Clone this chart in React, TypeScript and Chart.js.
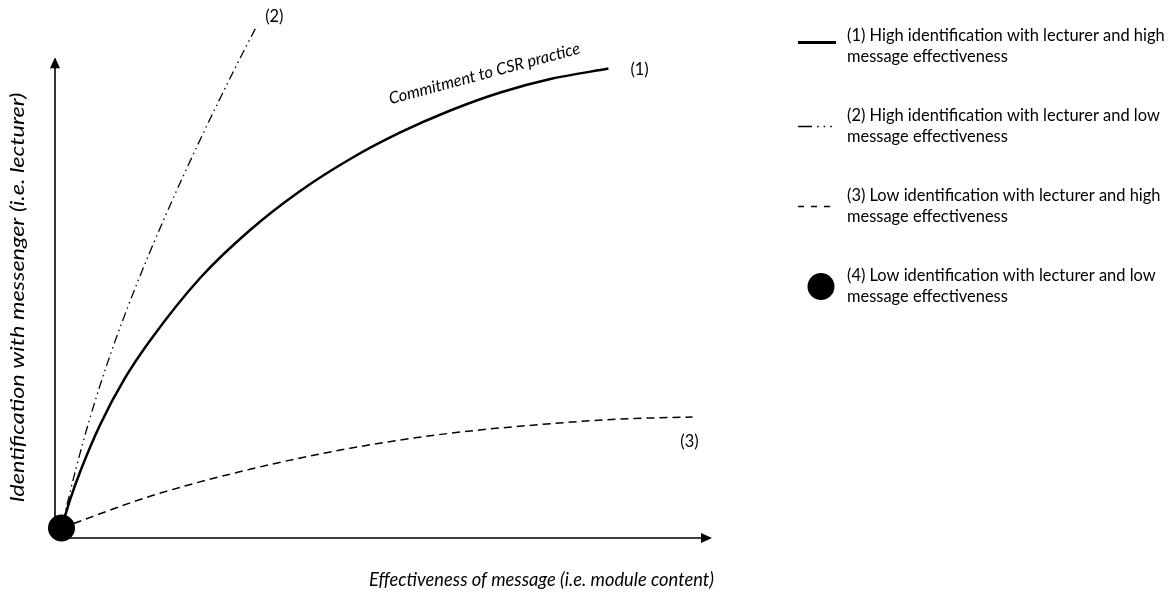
import React, { useEffect, useRef } from "react";
import { Chart, registerables } from "chart.js";

Chart.register(...registerables);

// ---- data (x: message effectiveness, y: identification with messenger) ----
const curve1X = [0, 1.31, 2.85, 5.92, 9.77, 13.62, 21.31, 29.0, 36.69, 44.38, 52.08, 59.77, 67.46, 75.15, 84.08];
const curve1Y = [0, 5.57, 11.13, 20.48, 29.82, 37.28, 49.7, 59.24, 67.0, 73.36, 78.63, 83.0, 86.58, 89.26, 91.33];

const curve2X = [0, 2.08, 4.38, 7.46, 11.31, 15.92, 21.31, 26.69, 30.08];
const curve2Y = [0, 11.09, 21.87, 34.29, 47.63, 61.89, 77.18, 91.43, 99.98];

const curve3X = [0, 13.62, 29.0, 44.38, 59.77, 75.15, 85.92, 97.0];
const curve3Y = [0, 6.3, 11.67, 15.85, 18.83, 20.72, 21.65, 22.07];

const originX = [0];
const originY = [0];

const curveTags = ["(1)", "(2)", "(3)"];
const curveCaption = "Commitment to CSR practice";
const xTitle = "Effectiveness of message (i.e. module content)";
const yTitle = "Identification with messenger (i.e. lecturer)";
const legendLines = [
  ["(1) High identification with lecturer and high", "message effectiveness"],
  ["(2) High identification with lecturer and low", "message effectiveness"],
  ["(3) Low identification with lecturer and high", "message effectiveness"],
  ["(4) Low identification with lecturer and low", "message effectiveness"],
];

const X_MIN = -1;
const X_MAX = 100;
const Y_MIN = -2;
const Y_MAX = 100;
const Y_AXIS_END = 93.6;

const FONT = "Lato, 'Open Sans', sans-serif";

const zip = (xs: number[], ys: number[]) => xs.map((x, i) => ({ x, y: ys[i] }));

function fitSize(ctx: CanvasRenderingContext2D, text: string, style: string, target: number) {
  ctx.font = `${style} 100px ${FONT}`;
  const w = ctx.measureText(text).width;
  return (100 * target) / w;
}

const decorPlugin = {
  id: "decor",
  beforeDatasetsDraw(chart: any) {
    const ctx: CanvasRenderingContext2D = chart.ctx;
    const xs = chart.scales.x;
    const ys = chart.scales.y;
    const cx = xs.getPixelForValue(X_MIN);
    const cy = ys.getPixelForValue(Y_MIN);
    const xEnd = xs.getPixelForValue(X_MAX);
    const yEnd = ys.getPixelForValue(Y_AXIS_END);
    ctx.save();
    ctx.strokeStyle = "#000";
    ctx.fillStyle = "#000";
    ctx.lineWidth = 1.6;
    ctx.beginPath();
    ctx.moveTo(cx, cy);
    ctx.lineTo(xEnd - 8, cy);
    ctx.moveTo(cx, cy);
    ctx.lineTo(cx, yEnd + 8);
    ctx.stroke();
    ctx.beginPath();
    ctx.moveTo(xEnd, cy);
    ctx.lineTo(xEnd - 11, cy - 5);
    ctx.lineTo(xEnd - 11, cy + 5);
    ctx.closePath();
    ctx.fill();
    ctx.beginPath();
    ctx.moveTo(cx, yEnd);
    ctx.lineTo(cx - 5, yEnd + 11);
    ctx.lineTo(cx + 5, yEnd + 11);
    ctx.closePath();
    ctx.fill();
    ctx.restore();
  },
  afterDatasetsDraw(chart: any) {
    const ctx: CanvasRenderingContext2D = chart.ctx;
    const xs = chart.scales.x;
    const ys = chart.scales.y;
    const px = (v: number) => xs.getPixelForValue(v);
    const py = (v: number) => ys.getPixelForValue(v);
    ctx.save();
    ctx.fillStyle = "#000";

    const legendSize = fitSize(ctx, legendLines[0][0], "normal", 318);
    const tagFont = `normal ${legendSize}px ${FONT}`;

    // curve tags
    ctx.font = tagFont;
    ctx.textBaseline = "middle";
    ctx.textAlign = "left";
    const e1 = curve1X.length - 1;
    ctx.fillText(curveTags[0], px(curve1X[e1]) + 22, py(curve1Y[e1]) + 1);
    const e2 = curve2X.length - 1;
    ctx.fillText(curveTags[1], px(curve2X[e2]) + 8, py(curve2Y[e2]) - 8);
    const e3 = curve3X.length - 1;
    ctx.textAlign = "center";
    ctx.fillText(curveTags[2], px(curve3X[e3]) - 3, py(curve3Y[e3]) + 25);

    // caption along curve 1
    ctx.save();
    ctx.font = `italic ${legendSize}px ${FONT}`;
    ctx.translate(px(curve1X[e1]) - 124, py(curve1Y[e1]) + 5);
    ctx.rotate((-15 * Math.PI) / 180);
    ctx.textAlign = "center";
    ctx.textBaseline = "middle";
    ctx.fillText(curveCaption, 0, 0);
    ctx.restore();

    // axis titles
    const xtSize = fitSize(ctx, xTitle, "italic", 345);
    ctx.font = `italic ${xtSize}px ${FONT}`;
    ctx.textAlign = "right";
    ctx.textBaseline = "middle";
    ctx.fillText(xTitle, px(X_MAX) + 2, py(Y_MIN) + 42);

    ctx.save();
    ctx.font = `italic ${xtSize * 1.06}px ${FONT}`;
    const natural = ctx.measureText(yTitle).width;
    ctx.translate(px(X_MIN) - 37, (py(Y_AXIS_END) + py(Y_MIN)) / 2);
    ctx.rotate(-Math.PI / 2);
    ctx.scale(410 / natural, 1);
    ctx.textAlign = "center";
    ctx.textBaseline = "middle";
    ctx.fillText(yTitle, 0, 0);
    ctx.restore();

    // legend
    const ds = chart.data.datasets;
    const legendOrder = [1, 2, 3, 0];
    const sampleDash = [[], [14, 5, 1.6, 5, 1.6, 5, 1.6, 20], [6, 7], []];
    const lx0 = 798;
    const lx1 = 836;
    const tx = 847;
    ctx.font = `normal ${legendSize}px ${FONT}`;
    ctx.textAlign = "left";
    ctx.textBaseline = "middle";
    legendLines.forEach((lines, i) => {
      const top = 36 + 80 * i;
      ctx.fillStyle = "#000";
      ctx.fillText(lines[0], tx, top);
      ctx.fillText(lines[1], tx, top + 21);
      const d = ds[legendOrder[i]];
      const sy = top + 10.5;
      if (d.showLine === false) {
        ctx.beginPath();
        ctx.arc((lx0 + lx1) / 2 + 4, sy, d.pointRadius, 0, Math.PI * 2);
        ctx.fillStyle = d.pointBackgroundColor;
        ctx.fill();
      } else {
        ctx.save();
        ctx.strokeStyle = d.borderColor;
        ctx.lineWidth = i === 0 ? 3 : 1.7;
        ctx.setLineDash(sampleDash[i]);
        ctx.beginPath();
        const yy = i === 0 ? top + 6.5 : sy;
        ctx.moveTo(lx0, yy);
        ctx.lineTo(lx1, yy);
        ctx.stroke();
        ctx.restore();
      }
    });
    ctx.restore();
  },
};

export default function App() {
  const canvasRef = useRef<HTMLCanvasElement | null>(null);

  useEffect(() => {
    const canvas = canvasRef.current;
    if (!canvas) return;
    const chart = new Chart(canvas, {
      type: "line",
      data: {
        datasets: [
          {
            label: "(4) Low identification with lecturer and low message effectiveness",
            data: zip(originX, originY),
            showLine: false,
            pointRadius: 13.5,
            pointHoverRadius: 13.5,
            pointBackgroundColor: "#000",
            pointBorderWidth: 0,
            borderColor: "#000",
            order: 0,
            clip: false,
          } as any,
          {
            label: "(1) High identification with lecturer and high message effectiveness",
            data: zip(curve1X, curve1Y),
            borderColor: "#000",
            borderWidth: 2.5,
            pointRadius: 0,
            cubicInterpolationMode: "monotone",
            order: 1,
            clip: false,
          },
          {
            label: "(2) High identification with lecturer and low message effectiveness",
            data: zip(curve2X, curve2Y),
            borderColor: "#000",
            borderWidth: 1.3,
            borderDash: [9, 4, 1.5, 4, 1.5, 4],
            pointRadius: 0,
            cubicInterpolationMode: "monotone",
            order: 2,
            clip: false,
          },
          {
            label: "(3) Low identification with lecturer and high message effectiveness",
            data: zip(curve3X, curve3Y),
            borderColor: "#000",
            borderWidth: 1.5,
            borderDash: [8, 5],
            pointRadius: 0,
            cubicInterpolationMode: "monotone",
            order: 3,
            clip: false,
          },
        ],
      },
      options: {
        animation: false,
        responsive: false,
        events: [],
        layout: { padding: { left: 55, right: 460, top: 25, bottom: 54 } },
        scales: {
          x: { type: "linear", min: X_MIN, max: X_MAX, display: false },
          y: { type: "linear", min: Y_MIN, max: Y_MAX, display: false },
        },
        plugins: {
          legend: { display: false },
          tooltip: { enabled: false },
          title: { display: false },
        },
      },
      plugins: [decorPlugin],
    });
    return () => chart.destroy();
  }, []);

  return (
    <div style={{ position: "fixed", left: 0, top: 0, width: 1172, height: 592, background: "#fff" }}>
      <canvas ref={canvasRef} width={1172} height={592} style={{ display: "block" }} />
    </div>
  );
}
